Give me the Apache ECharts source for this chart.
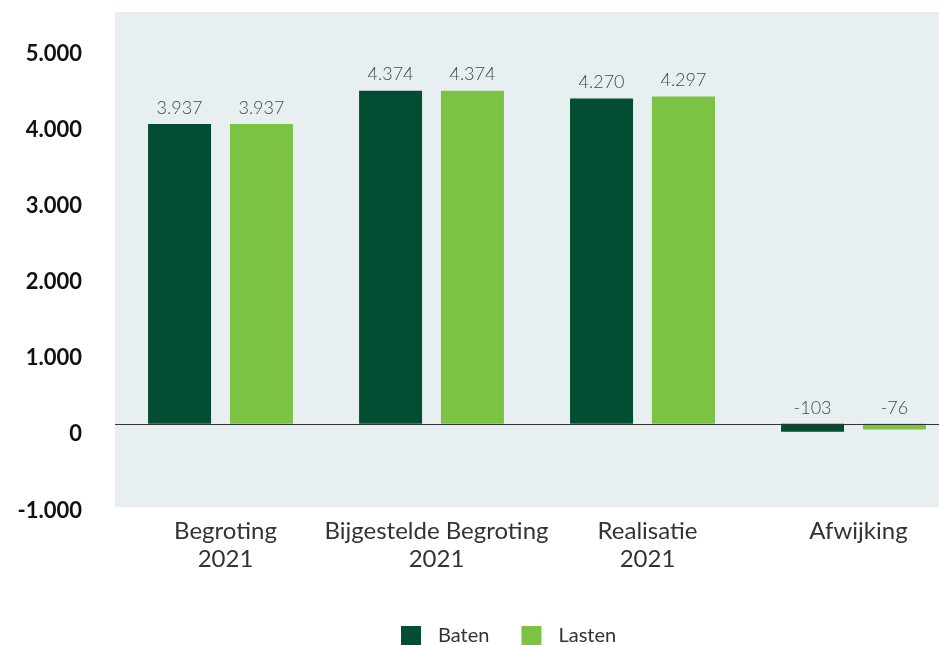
<!DOCTYPE html>
<html>
<head>
<meta charset="utf-8">
<script src="https://cdn.jsdelivr.net/npm/echarts@6/dist/echarts.min.js"></script>
<style>
  html, body { margin: 0; padding: 0; background: #fff; overflow: hidden; }
  /* the category axis runs past the right edge of the window, as in the original */
  #chart { width: 959px; height: 645px; }
</style>
</head>
<body>
<div id="chart"></div>
<script>
const categories = ['Begroting\n2021', 'Bijgestelde Begroting\n2021', 'Realisatie\n2021', 'Afwijking']
const baten = [3937, 4374, 4270, -103]
const lasten = [3937, 4374, 4297, -76]
const yMin = -1000
const yMax = 5000
const yStep = 1000

// dot as thousands separator
const fmt = v => String(v).replace(/\B(?=(\d{3})+(?!\d))/g, '.')

const valueLabel = {
  show: true,
  position: 'top',
  distance: 7,
  fontFamily: 'Lato',
  fontWeight: 300,
  fontSize: 18,
  color: '#444',
  formatter: p => fmt(p.value)
}

const chart = echarts.init(document.getElementById('chart'))
chart.setOption({
  animation: false,
  textStyle: {fontFamily: 'Lato'},
  grid: [
    {left: 115, right: 0, top: 43, bottom: 145, containLabel: false},
    // background panel only
    {left: 115, right: 20, top: 12, bottom: 138, show: true, backgroundColor: '#e8eff1', borderWidth: 0, z: -1}
  ],
  legend: {
    bottom: -6,
    left: 396,
    itemWidth: 20,
    itemHeight: 20,
    itemGap: 32,
    icon: 'rect',
    textStyle: {fontSize: 20, color: '#333', padding: [0, 0, 0, 12]},
    data: ['Baten', 'Lasten']
  },
  xAxis: [
    {
      type: 'category',
      data: categories,
      gridIndex: 0,
      axisLine: {show: false, onZero: false},
      axisTick: {show: false},
      axisLabel: {fontSize: 24, lineHeight: 28, color: '#333', margin: 17, interval: 0, padding: [0, 0, 0, 10]}
    },
    {type: 'value', gridIndex: 1, show: false}
  ],
  yAxis: [
    {
      type: 'value',
      gridIndex: 0,
      min: yMin,
      max: yMax,
      interval: yStep,
      splitLine: {show: false},
      axisLine: {show: false},
      axisTick: {show: false},
      axisLabel: {
        fontSize: 22,
        fontWeight: 'bold',
        color: '#111',
        margin: 33,
        verticalAlign: 'top',
        lineHeight: 21,
        formatter: v => fmt(v)
      }
    },
    {type: 'value', gridIndex: 1, show: false}
  ],
  series: [
    {
      name: 'Baten',
      type: 'bar',
      data: baten,
      barWidth: 63,
      barGap: '30%',
      itemStyle: {color: '#034d32'},
      label: valueLabel,
      markLine: {
        silent: true,
        symbol: 'none',
        label: {show: false},
        lineStyle: {color: '#333', width: 1, type: 'solid'},
        data: [{yAxis: 0}]
      }
    },
    {
      name: 'Lasten',
      type: 'bar',
      data: lasten,
      barWidth: 63,
      itemStyle: {color: '#7cc243'},
      label: valueLabel
    }
  ]
})
</script>
</body>
</html>
